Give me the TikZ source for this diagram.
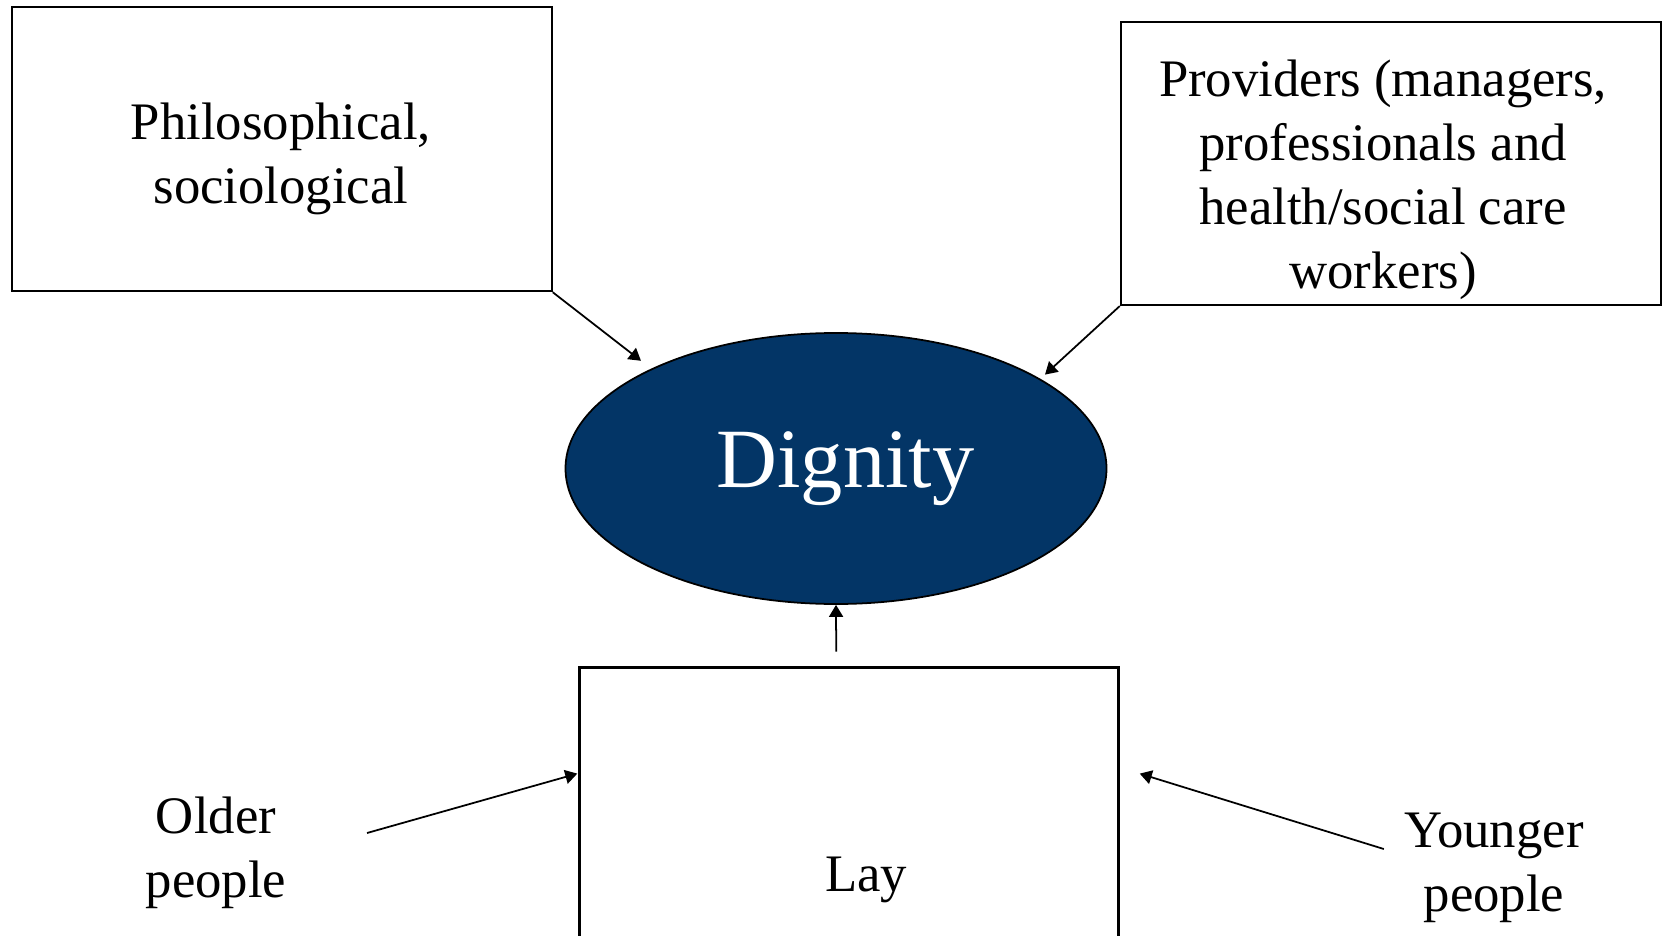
\documentclass[tikz,border=0pt]{standalone}
\usepackage{fontspec}
\setmainfont{Liberation Serif}
\usetikzlibrary{shapes.geometric,arrows.meta}
\definecolor{dignityblue}{RGB}{3,53,102}
\begin{document}
\begin{tikzpicture}[every node/.style={font=\fontsize{15}{18.2}\selectfont, align=center, inner sep=0pt},
    box/.style={draw=black, line width=0.6pt, fill=white},
    arr/.style={-{Triangle[length=1.2mm, width=1.4mm]}, line width=0.5pt, black}]
    \useasboundingbox (0,0) rectangle (16.64,9.35);
    \clip (0,0) rectangle (16.64,9.35);

    % Верхние рамки
    \node[box, minimum width=5.40cm, minimum height=2.84cm] (philbox) at (2.817,7.858) {};
    \node[box, minimum width=5.40cm, minimum height=2.83cm] (provbox) at (13.908,7.715) {};
    \node (philtext) at (2.81,7.76) {Philosophical,\\sociological};
    \node (provtext) at (13.83,7.55) {Providers (managers,\\professionals and\\health/social care\\workers)};

    % Эллипс в центре
    \node[ellipse, draw=black, line width=0.5pt, fill=dignityblue,
          minimum width=5.41cm, minimum height=2.71cm] (dig) at (8.36,4.665) {};
    \node[text=white, font=\fontsize{24}{29}\selectfont] (digtext) at (8.455,4.665) {Dignity};

    % Нижняя рамка (уходит за край)
    \node[box, anchor=north, minimum width=5.39cm, minimum height=4cm] (laybox) at (8.49,2.686) {};
    \node (laytext) at (8.66,0.55) {Lay};

    % Подписи по бокам
    \node (older) at (2.16,0.82) {Older\\people};
    \node (younger) at (14.94,0.67) {Younger\\people};

    % Концы стрелок
    \coordinate (philtip) at (6.41,5.742);
    \coordinate (provtip) at (10.45,5.604);
    \coordinate (laystart) at (8.362,2.834);
    \coordinate (olderstart) at (3.67,1.02);
    \coordinate (oldertip) at (5.773,1.614);
    \coordinate (youngerstart) at (13.838,0.86);
    \coordinate (youngertip) at (11.397,1.614);

    % Стрелки
    \draw[arr] (philbox.south east) -- (philtip);
    \draw[arr] (provbox.south west) -- (provtip);
    \draw[arr] (laystart) -- (dig.south);
    \draw[arr] (olderstart) -- (oldertip);
    \draw[arr] (youngerstart) -- (youngertip);
\end{tikzpicture}
\end{document}
